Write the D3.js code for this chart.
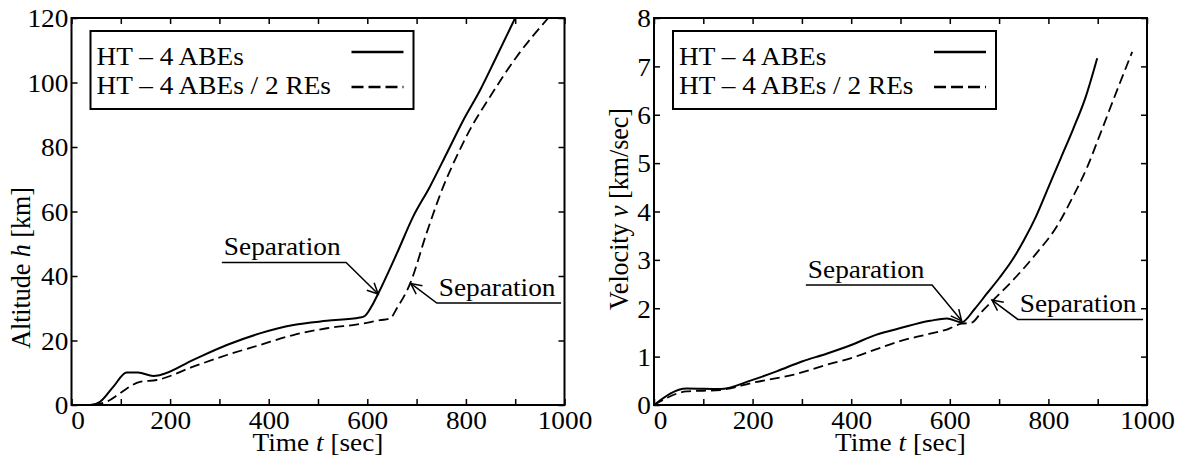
<!DOCTYPE html>
<html><head><meta charset="utf-8">
<script src="https://cdn.jsdelivr.net/npm/d3@7"></script>
<style>
html,body{margin:0;padding:0;background:#fff;}
svg text{font-family:"Liberation Serif","Times New Roman",Times,serif;fill:#000;}
</style></head>
<body><svg id="c" width="1178" height="459"></svg>
<script>
// ---------- data ----------
const xTicks = [0,100,200,300,400,500,600,700,800,900,1000];
const altTicks = [0,20,40,60,80,100,120];
const velTicks = [0,1,2,3,4,5,6,7,8];
const seriesNames = ["HT \u2013 4 ABEs", "HT \u2013 4 ABEs / 2 REs"];

// Altitude h [km] vs time t [sec]
const altT_A = [14,38,58,85,112,135,166,180,247,315,382,450,518,585,595,612,622,660,693,727,761,795,829,862,900];
const altH_A = [0,0,1,5.7,10.1,10.1,9.0,9.3,14.0,18.6,22.2,24.8,26.1,27.1,27.6,31.5,34.5,47,58.4,67.7,78,88.4,97.7,108,120];
const altT_B = [14,38,71,98,139,173,247,315,382,450,518,585,626,646,660,687,720,754,781,808,849,903,967];
const altH_B = [0,0,1.0,3.6,7.2,7.75,11.9,15.5,18.6,21.7,23.8,25.1,26.3,26.8,30,37.7,53.2,67.7,77,85.3,95.6,108,120];

// Velocity v [km/sec] vs time t [sec]
const velT_A = [0,66,134,200,250,300,350,400,450,500,560,594,624,650,675,700,725,750,775,800,825,850,875,899];
const velV_A = [0,0.34,0.33,0.52,0.70,0.90,1.06,1.24,1.45,1.59,1.74,1.79,1.71,1.98,2.3,2.62,2.97,3.4,3.9,4.5,5.1,5.7,6.35,7.17];
const velT_B = [0,66,134,200,284,350,400,450,499,550,594,624,644,665,688,730,776,817,850,878,905,939,970];
const velV_B = [0,0.28,0.31,0.46,0.63,0.83,0.97,1.15,1.32,1.45,1.56,1.68,1.70,1.93,2.17,2.6,3.14,3.69,4.31,4.9,5.6,6.5,7.3];

// annotations (data coords): start of underline, elbow, arrow tip
const annAlt = [
  {label:"Separation", start:[305,44.2], elbow:[557,44.2], tip:[622,34.4]},
  {label:"Separation", start:[993,31.6], elbow:[741,31.6], tip:[688,37.7]}
];
const annVel = [
  {label:"Separation", start:[308,2.48], elbow:[564,2.48], tip:[624,1.74]},
  {label:"Separation", start:[992,1.77], elbow:[738,1.77], tip:[685.6,2.17]}
];

// ---------- drawing ----------
const svg = d3.select("#c");
const SX = 1.05, FS = 26;

function stext(g, x, y, anchor){
  return g.append("text")
    .attr("transform", `translate(${x},${y}) scale(${SX},1)`)
    .attr("text-anchor", anchor).style("font-size", FS+"px");
}

function panel(cfg){
  const {x0,x1,y0,y1,yDomain,yTicks,yLabelVar,yLabelPre,yLabelPost,yLabelX,yLabelY,sA,sB,ann} = cfg;
  const x = d3.scaleLinear().domain([0,1000]).range([x0,x1]);
  const y = d3.scaleLinear().domain(yDomain).range([y1,y0]);
  const g = svg.append("g");

  // axes with inward ticks
  const fmtX = d => (d % 200 === 0 ? d : "");
  const ax = g.append("g").attr("transform",`translate(0,${y1})`)
    .call(d3.axisBottom(x).tickValues(xTicks).tickFormat(fmtX).tickSize(-6).tickPadding(6));
  g.append("g").attr("transform",`translate(0,${y0})`)
    .call(d3.axisTop(x).tickValues(xTicks).tickFormat("").tickSize(-6));
  const ay = g.append("g").attr("transform",`translate(${x0},0)`)
    .call(d3.axisLeft(y).tickValues(yTicks).tickSize(-6).tickPadding(3));
  g.append("g").attr("transform",`translate(${x1},0)`)
    .call(d3.axisRight(y).tickValues(yTicks).tickFormat("").tickSize(-6));
  g.selectAll(".domain").remove();
  g.selectAll(".tick line").attr("stroke","#000").attr("stroke-width",1.5);
  g.selectAll(".tick text").attr("font-family",null).style("font-size",FS+"px").attr("fill","#000");
  ax.selectAll(".tick text").attr("transform",`scale(${SX},1)`).attr("dy","0.71em")
    .attr("x", d => d === 0 ? 6/SX : 0);
  ay.selectAll(".tick text").attr("transform",`scale(${SX},1)`).attr("dy","0.34em");

  // frame
  g.append("rect").attr("x",x0).attr("y",y0).attr("width",x1-x0).attr("height",y1-y0)
    .attr("fill","none").attr("stroke","#000").attr("stroke-width",2);

  // curves
  const line = d3.line().x(d=>x(d[0])).y(d=>y(d[1])).curve(d3.curveMonotoneX);
  g.append("path").datum(sA[0].map((t,i)=>[t,sA[1][i]])).attr("d",line)
    .attr("fill","none").attr("stroke","#000").attr("stroke-width",2);
  g.append("path").datum(sB[0].map((t,i)=>[t,sB[1][i]])).attr("d",line)
    .attr("fill","none").attr("stroke","#000").attr("stroke-width",1.8).attr("stroke-dasharray","10,5");

  // legend
  const lx0 = x0 + 19, ly0 = 31, lx1 = x0 + 342, ly1 = 109;
  g.append("rect").attr("x",lx0).attr("y",ly0).attr("width",lx1-lx0).attr("height",ly1-ly0)
    .attr("fill","#fff").attr("stroke","#000").attr("stroke-width",2);
  stext(g, lx0+6, 65, "start").text(seriesNames[0]);
  stext(g, lx0+6, 94, "start").text(seriesNames[1]);
  g.append("line").attr("x1",lx1-62).attr("x2",lx1-10).attr("y1",52).attr("y2",52)
    .attr("stroke","#000").attr("stroke-width",2.5);
  g.append("line").attr("x1",lx1-62).attr("x2",lx1-10).attr("y1",87).attr("y2",87)
    .attr("stroke","#000").attr("stroke-width",2.5).attr("stroke-dasharray","12,5");

  // annotations
  ann.forEach(a=>{
    const s=[x(a.start[0]),y(a.start[1])], e=[x(a.elbow[0]),y(a.elbow[1])], t=[x(a.tip[0]),y(a.tip[1])];
    g.append("path").attr("d",`M${s[0]},${s[1]}L${e[0]},${e[1]}L${t[0]},${t[1]}`)
      .attr("fill","none").attr("stroke","#000").attr("stroke-width",1.5);
    const ang = Math.atan2(e[1]-t[1], e[0]-t[0]), L=12, da=0.45;
    const p1=[t[0]+L*Math.cos(ang+da), t[1]+L*Math.sin(ang+da)];
    const p2=[t[0]+L*Math.cos(ang-da), t[1]+L*Math.sin(ang-da)];
    g.append("path").attr("d",`M${p1[0]},${p1[1]}L${t[0]},${t[1]}L${p2[0]},${p2[1]}`)
      .attr("fill","none").attr("stroke","#000").attr("stroke-width",1.5);
    const tx = Math.min(s[0],e[0]) + 2;
    stext(g, tx, s[1]-7.5, "start").text(a.label);
  });

  // axis titles
  const xt = stext(g, (x0+x1)/2, 451, "middle");
  xt.append("tspan").text("Time ");
  xt.append("tspan").style("font-style","italic").text("t");
  xt.append("tspan").text(" [sec]");
  const yt = g.append("text")
    .attr("transform",`translate(${yLabelX},${yLabelY}) scale(${SX},1) rotate(-90)`)
    .attr("text-anchor","middle").style("font-size",FS+"px");
  yt.append("tspan").text(yLabelPre);
  yt.append("tspan").style("font-style","italic").text(yLabelVar);
  yt.append("tspan").text(yLabelPost);
}

panel({x0:71.5,x1:564.5,y0:18,y1:405,yDomain:[0,120],yTicks:altTicks,
  yLabelPre:"Altitude ",yLabelVar:"h",yLabelPost:" [km]",yLabelX:30,yLabelY:268,
  sA:[altT_A,altH_A],sB:[altT_B,altH_B],ann:annAlt});
panel({x0:654,x1:1147,y0:18,y1:405,yDomain:[0,8],yTicks:velTicks,
  yLabelPre:"Velocity ",yLabelVar:"v",yLabelPost:" [km/sec]",yLabelX:628,yLabelY:209,
  sA:[velT_A,velV_A],sB:[velT_B,velV_B],ann:annVel});
</script></body></html>
